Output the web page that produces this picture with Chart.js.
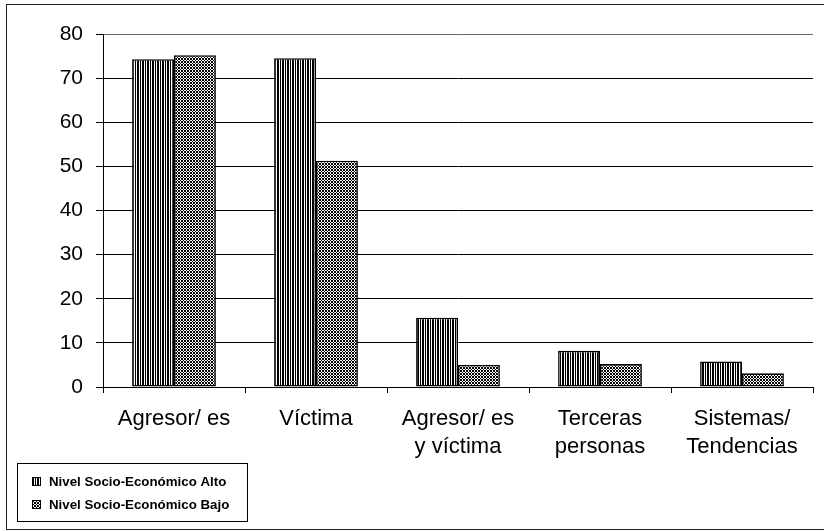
<!DOCTYPE html>
<html lang="es">
<head>
<meta charset="utf-8">
<title>Nivel socio-económico</title>
<script src="https://cdn.jsdelivr.net/npm/chart.js@4/dist/chart.umd.min.js"></script>
<style>
  html, body { margin: 0; padding: 0; background: #fff; }
  #wrap { width: 824px; height: 531px; }
</style>
</head>
<body>
<div id="wrap"><canvas id="c" width="824" height="531"></canvas></div>
<script>
  "use strict";

  // datos
  var CATEGORIAS = [["Agresor/ es"], ["Víctima"], ["Agresor/ es", "y víctima"], ["Terceras", "personas"], ["Sistemas/", "Tendencias"]];
  var SERIES = ["Nivel Socio-Económico Alto", "Nivel Socio-Económico Bajo"];
  var ALTO = [74.3, 74.5, 15.7, 8.2, 5.8];
  var BAJO = [75.2, 51.3, 5.0, 5.2, 3.1];
  var Y_TICKS = [0, 10, 20, 30, 40, 50, 60, 70, 80];

  var FONT = "'Liberation Sans', Arial, Helvetica, sans-serif";

  // tramas en blanco y negro (rayas verticales / cuadriculado)
  function tile(w, h, fn) {
    var cv = document.createElement("canvas");
    cv.width = w; cv.height = h;
    var g = cv.getContext("2d");
    g.fillStyle = "#fff"; g.fillRect(0, 0, w, h);
    g.fillStyle = "#000";
    for (var x = 0; x < w; x++) for (var y = 0; y < h; y++) if (fn(x, y)) g.fillRect(x, y, 1, 1);
    return g.createPattern(cv, "repeat");
  }
  var rayas = tile(5, 1, function (x) { return x === 0 || x === 2 || x === 3; });
  var cuadros = tile(3, 3, function (x, y) { return (x + y) % 3 === 0 || (x - y + 3) % 3 === 0; });
  var TRAMAS = [rayas, cuadros];

  var marco = {
    id: "marco",
    afterDraw: function (chart) {
      var ctx = chart.ctx;
      ctx.save();
      ctx.strokeStyle = "#222"; ctx.lineWidth = 1;
      ctx.strokeRect(6.5, 4.5, 840, 525);
      // leyenda en caja, abajo a la izquierda
      ctx.strokeStyle = "#000";
      ctx.strokeRect(17.5, 463.5, 230, 58);
      ctx.font = "bold 13.3px " + FONT;
      ctx.textBaseline = "middle";
      [481, 504].forEach(function (y, i) {
        ctx.fillStyle = TRAMAS[i];
        ctx.fillRect(32, y - 4, 9, 9);
        ctx.strokeRect(32.5, y - 3.5, 8, 8);
        ctx.fillStyle = "#000";
        ctx.fillText(SERIES[i], 49, y + 1);
      });
      ctx.restore();
    }
  };

  new Chart(document.getElementById("c"), {
    type: "bar",
    data: {
      labels: CATEGORIAS,
      datasets: [
        { label: SERIES[0], data: ALTO, backgroundColor: rayas, borderColor: "#000", borderWidth: 1.6, borderSkipped: false },
        { label: SERIES[1], data: BAJO, backgroundColor: cuadros, borderColor: "#000", borderWidth: 1.6, borderSkipped: false }
      ]
    },
    options: {
      responsive: false,
      animation: false,
      devicePixelRatio: 1,
      layout: { padding: { top: 34, right: 11, left: 0, bottom: 0 } },
      plugins: { legend: { display: false }, tooltip: { enabled: false } },
      datasets: { bar: { categoryPercentage: 0.59, barPercentage: 1 } },
      scales: {
        x: {
          afterFit: function (s) { s.height = 144; },
          grid: {
            offset: true,
            color: function (c) { return c.index === CATEGORIAS.length ? "#000" : "rgba(0,0,0,0)"; },
            tickColor: "#000",
            tickLength: 6
          },
          border: { color: "#000", width: 1 },
          ticks: { color: "#000", padding: 12, font: { family: FONT, size: 22, lineHeight: 1.28 }, maxRotation: 0 }
        },
        y: {
          min: 0, max: 80,
          afterFit: function (s) { s.width = 103; },
          afterBuildTicks: function (s) { s.ticks = Y_TICKS.map(function (v) { return { value: v }; }); },
          grid: {
            color: function (c) { return c.tick && c.tick.value === 80 ? "#666" : "#000"; },
            tickColor: "#000",
            tickLength: 7
          },
          border: { color: "#000", width: 1 },
          ticks: { color: "#000", padding: 13, font: { family: FONT, size: 21 } }
        }
      }
    },
    plugins: [marco]
  });
</script>
</body>
</html>
